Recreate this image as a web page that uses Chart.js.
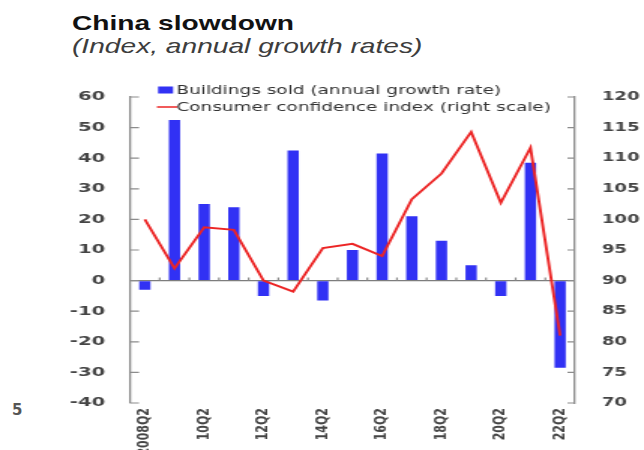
<!DOCTYPE html>
<html>
<head>
<meta charset="utf-8">
<title>China slowdown</title>
<script src="https://cdn.jsdelivr.net/npm/chart.js@4"></script>
<style>
  html, body { margin: 0; padding: 0; background: #fff; }
  body { width: 644px; height: 450px; position: relative; overflow: hidden; font-family: "Liberation Sans", Arial, sans-serif; }
  .head { position: absolute; left: 72px; white-space: nowrap; transform: scaleX(1.34); transform-origin: 0 0; }
  #title { top: 12px; font-size: 21px; line-height: 21px; font-weight: bold; color: #121212; }
  #subtitle { top: 35px; font-size: 21px; line-height: 21px; font-style: italic; color: #3d3d3d; }
  #edge { position: absolute; left: 12px; top: 401px; font: bold 15px "DejaVu Sans", sans-serif; color: #555; }
  /* the plot is drawn narrow and widened, which gives the broad lettering */
  #wrap { position: absolute; left: 0; top: 0; width: 429px; height: 450px; transform: scaleX(1.5012); transform-origin: 0 0; }
</style>
</head>
<body>
<div id="title" class="head">China slowdown</div>
<div id="subtitle" class="head">(Index, annual growth rates)</div>
<div id="edge">5</div>
<div id="wrap"><canvas id="chart" width="429" height="450"></canvas></div>
<script>
const quarters = ["2008Q2", "09Q2", "10Q2", "11Q2", "12Q2", "13Q2", "14Q2", "15Q2",
                  "16Q2", "17Q2", "18Q2", "19Q2", "20Q2", "21Q2", "22Q2"];
// buildings sold, annual growth rate (%)
const buildingsSold = [-3, 52.5, 25, 24, -5, 42.5, -6.5, 10, 41.5, 21, 13, 5, -5, 38.5, -28.5];
// consumer confidence index, right scale
const consumerConfidence = [100, 92, 98.7, 98.3, 90, 88.2, 95.3, 96, 94, 103.3, 107.5, 114.3, 102.7, 111.7, 81];
const leftTicks = [-40, -30, -20, -10, 0, 10, 20, 30, 40, 50, 60];
const rightTicks = [70, 75, 80, 85, 90, 95, 100, 105, 110, 115, 120];

const BLUE = "#3131f4";
const RED = "#ec2424";
const AXIS = "#8c8c8c";
const TEXT = "#454545";

// inward tick marks, the little marks on the zero line and the legend
const axisMarks = {
  id: "axisMarks",
  afterDraw(chart) {
    const { ctx, chartArea: a, scales: { x, y, y1 } } = chart;
    ctx.save();
    ctx.strokeStyle = AXIS;
    ctx.lineWidth = 1.2;
    ctx.beginPath();
    y.ticks.forEach(t => {
      const py = y.getPixelForValue(t.value);
      ctx.moveTo(a.left, py);
      ctx.lineTo(a.left + 6, py);
    });
    y1.ticks.forEach(t => {
      const py = y1.getPixelForValue(t.value);
      ctx.moveTo(a.right, py);
      ctx.lineTo(a.right - 5, py);
    });
    const zero = y.getPixelForValue(0);
    const half = (x.getPixelForValue(1) - x.getPixelForValue(0)) / 2;
    for (let i = 1; i < quarters.length; i++) {
      const px = x.getPixelForValue(i) - half;
      ctx.moveTo(px, zero);
      ctx.lineTo(px, zero - 3);
    }
    ctx.stroke();

    ctx.font = "12.3px 'DejaVu Sans', sans-serif";
    ctx.textBaseline = "middle";
    chart.data.datasets.forEach((ds, i) => {
      const cy = 90 + i * 17;
      if (ds.type === "line") {
        ctx.strokeStyle = ds.borderColor;
        ctx.lineWidth = 1.5;
        ctx.beginPath();
        ctx.moveTo(104.5, cy);
        ctx.lineTo(118, cy);
        ctx.stroke();
      } else {
        ctx.fillStyle = ds.backgroundColor;
        ctx.fillRect(105.3, cy - 3.5, 10, 7);
      }
      ctx.fillStyle = "#333";
      ctx.fillText(ds.label, 117.5, cy + 0.5);
    });
    ctx.restore();
  }
};

new Chart(document.getElementById("chart"), {
  type: "bar",
  data: {
    labels: quarters,
    datasets: [
      {
        type: "bar",
        label: "Buildings sold (annual growth rate)",
        data: buildingsSold,
        yAxisID: "y",
        backgroundColor: BLUE,
        barPercentage: 0.38,
        categoryPercentage: 1,
        order: 1
      },
      {
        type: "line",
        label: "Consumer confidence index (right scale)",
        data: consumerConfidence,
        yAxisID: "y1",
        borderColor: RED,
        borderWidth: 1.9,
        pointRadius: 0,
        tension: 0,
        order: 0
      }
    ]
  },
  options: {
    responsive: false,
    animation: false,
    devicePixelRatio: 1,
    layout: { padding: { top: 97, left: 0, right: 0, bottom: 0 } },
    plugins: { legend: { display: false }, tooltip: { enabled: false } },
    scales: {
      x: {
        offset: true,
        grid: { display: false, drawTicks: false },
        border: { display: false },
        afterFit: s => { s.height = 47; },
        ticks: {
          autoSkip: false,
          minRotation: 90,
          maxRotation: 90,
          padding: 5,
          color: TEXT,
          font: { family: "DejaVu Sans", size: 11, weight: "bold" },
          callback: (v, i) => (i % 2 === 0 ? quarters[i] : "")
        }
      },
      y: {
        position: "left",
        min: leftTicks[0],
        max: leftTicks[leftTicks.length - 1],
        afterBuildTicks: s => { s.ticks = leftTicks.map(v => ({ value: v })); },
        afterFit: s => { s.width = 86.6; },
        border: { display: true, color: AXIS, width: 1.3 },
        grid: {
          drawTicks: false,
          color: c => (c.tick && c.tick.value === 0 ? "#7d7d7d" : "rgba(0,0,0,0)"),
          lineWidth: 1.2
        },
        ticks: { padding: 16.5, color: TEXT, font: { family: "DejaVu Sans", size: 13, weight: "bold" } }
      },
      y1: {
        position: "right",
        min: rightTicks[0],
        max: rightTicks[rightTicks.length - 1],
        afterBuildTicks: s => { s.ticks = rightTicks.map(v => ({ value: v })); },
        afterFit: s => { s.width = 46; },
        border: { display: true, color: AXIS, width: 1.3 },
        grid: { display: false, drawTicks: false },
        ticks: { padding: 18, color: TEXT, font: { family: "DejaVu Sans", size: 12, weight: "bold" } }
      }
    }
  },
  plugins: [axisMarks]
});
</script>
</body>
</html>
